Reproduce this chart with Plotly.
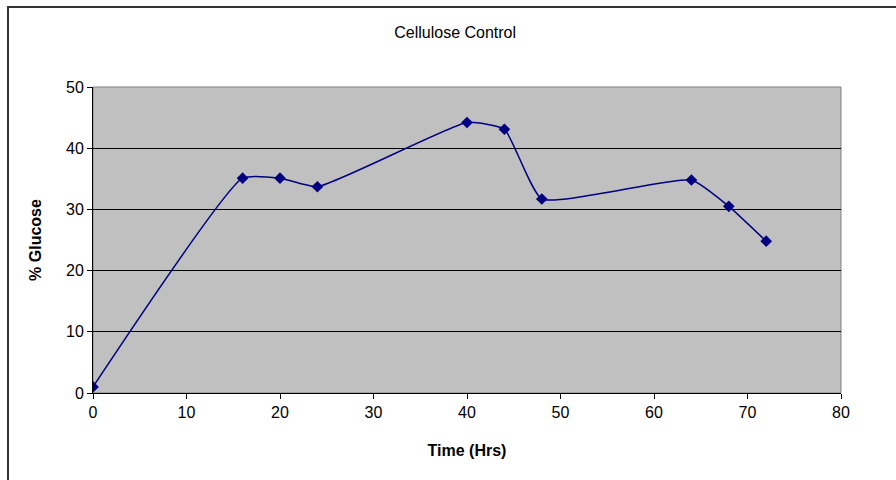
import plotly.graph_objects as go

time_hrs = [0, 16, 20, 24, 40, 44, 48, 64, 68, 72]
glucose_pct = [1.0, 35.1, 35.1, 33.7, 44.2, 43.1, 31.7, 34.8, 30.5, 24.8]
x_ticks = [0, 10, 20, 30, 40, 50, 60, 70, 80]
y_ticks = [0, 10, 20, 30, 40, 50]

FONT = "Liberation Sans, Arial, sans-serif"
NAVY = "#000080"

fig = go.Figure()
fig.add_trace(go.Scatter(
    x=time_hrs, y=glucose_pct, mode="lines+markers",
    line=dict(color=NAVY, width=1.5, shape="spline", smoothing=0.45),
    marker=dict(symbol="diamond", size=9, color=NAVY),
    showlegend=False, hoverinfo="x+y",
))

L, R, T, B = 93, 55, 87, 87
W, H = 896, 480
pw, ph = W - L - R, H - T - B

fig.update_layout(
    width=W, height=H,
    margin=dict(l=L, r=R, t=T, b=B, pad=0),
    paper_bgcolor="white", plot_bgcolor="#C0C0C0",
    font=dict(family=FONT, size=16, color="black"),
    title=dict(text="Cellulose Control", x=0.508, xanchor="center",
               y=1 - 32 / H, yanchor="middle",
               font=dict(family=FONT, size=16, color="black")),
    xaxis=dict(range=[0, 80], tickvals=x_ticks, ticks="outside", ticklen=5,
               tickcolor="black", showgrid=False, zeroline=False,
               showline=True, linecolor="black", linewidth=1,
               tickfont=dict(size=16),
               title=dict(text="<b>Time (Hrs)</b>", standoff=24,
                          font=dict(family=FONT, size=16))),
    yaxis=dict(range=[0, 50], tickvals=y_ticks, ticks="outside", ticklen=5,
               tickcolor="black", showgrid=True, gridcolor="black", gridwidth=1,
               zeroline=False, showline=True, linecolor="black", linewidth=1,
               tickfont=dict(size=16),
               title=dict(text="<b>% Glucose</b>", standoff=20,
                          font=dict(family=FONT, size=16))),
)

# gray plot-area border (top/right)
fig.add_shape(type="rect", xref="x domain", yref="y domain", x0=0, x1=1, y0=0, y1=1,
              line=dict(color="#808080", width=1), layer="below")
# outer chart frame
fig.add_shape(type="rect", xref="paper", yref="paper",
              x0=(8 - L) / pw, x1=(W + 10 - L) / pw,
              y0=-(H + 10 - T - ph) / ph, y1=(H - B - 7) / ph,
              line=dict(color="#333333", width=2), fillcolor="rgba(0,0,0,0)", layer="above")

fig.write_html("out.html")
